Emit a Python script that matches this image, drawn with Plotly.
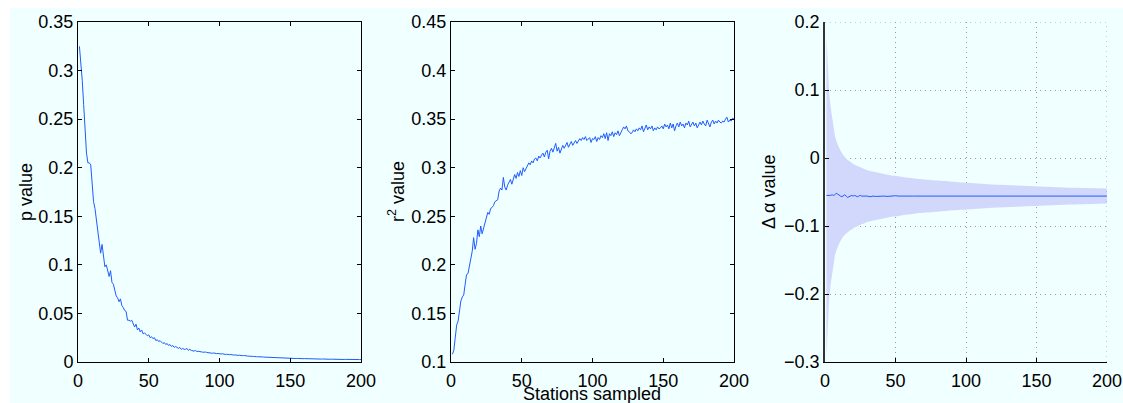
import plotly.graph_objects as go

# ---------------- data ----------------
stations = list(range(1, 201))

p_value = [
    0.325, 0.310, 0.290, 0.265, 0.240, 0.215, 0.205, 0.205, 0.203, 0.180,
    0.165, 0.158, 0.145, 0.133, 0.122, 0.112, 0.121, 0.110, 0.098, 0.100,
    0.094, 0.088, 0.094, 0.082, 0.080, 0.074, 0.068, 0.066, 0.062, 0.065,
    0.058, 0.056, 0.053, 0.052, 0.043, 0.043, 0.042, 0.043, 0.040, 0.036,
    0.039, 0.033, 0.035, 0.031, 0.033, 0.029, 0.030, 0.028, 0.027, 0.028,
    0.025, 0.026, 0.024, 0.025, 0.022, 0.023, 0.021, 0.022, 0.020, 0.019,
    0.020, 0.018, 0.019, 0.017, 0.018, 0.016, 0.017, 0.015, 0.016, 0.015,
    0.014, 0.015, 0.013, 0.014, 0.013, 0.013, 0.014, 0.012, 0.013, 0.012,
    0.0115, 0.0112, 0.0118, 0.0108, 0.0110, 0.0105, 0.0108, 0.0102, 0.0100, 0.0103,
    0.0098, 0.0095, 0.0097, 0.0092, 0.0090, 0.0093, 0.0088, 0.0086, 0.0088, 0.0083,
    0.0082, 0.0085, 0.0080, 0.0078, 0.0080, 0.0076, 0.0075, 0.0077, 0.0072, 0.0071,
    0.0073, 0.0069, 0.0068, 0.0070, 0.0066, 0.0065, 0.0067, 0.0063, 0.0064, 0.0061,
    0.0060, 0.0062, 0.0058, 0.0057, 0.0059, 0.0055, 0.0054, 0.0056, 0.0052, 0.0053,
    0.0051, 0.0050, 0.0052, 0.0048, 0.0049, 0.0047, 0.0046, 0.0048, 0.0045, 0.0044,
    0.0046, 0.0043, 0.0042, 0.0044, 0.0041, 0.0040, 0.0042, 0.0039, 0.0038, 0.0039,
    0.0038, 0.0037, 0.0038, 0.0036, 0.0037, 0.0035, 0.0036, 0.0035, 0.0034, 0.0035,
    0.0034, 0.0033, 0.0034, 0.0032, 0.0033, 0.0032, 0.0031, 0.0032, 0.0031, 0.0030,
    0.0031, 0.0030, 0.0031, 0.0029, 0.0030, 0.0029, 0.0030, 0.0028, 0.0029, 0.0028,
    0.0029, 0.0028, 0.0027, 0.0028, 0.0027, 0.0028, 0.0027, 0.0026, 0.0027, 0.0026,
    0.0027, 0.0026, 0.0027, 0.0026, 0.0025, 0.0026, 0.0025, 0.0026, 0.0025, 0.0025,
]

r2_value = [
    0.108, 0.112, 0.125, 0.138, 0.142, 0.152, 0.163, 0.167, 0.169, 0.180,
    0.190, 0.191, 0.198, 0.206, 0.214, 0.228, 0.216, 0.222, 0.236, 0.229,
    0.240, 0.232, 0.238, 0.245, 0.250, 0.254, 0.252, 0.258, 0.259, 0.261,
    0.265, 0.266, 0.267, 0.276, 0.279, 0.277, 0.290, 0.280, 0.277, 0.282,
    0.285, 0.288, 0.283, 0.287, 0.293, 0.289, 0.295, 0.291, 0.297, 0.292,
    0.300, 0.296, 0.299, 0.301, 0.305, 0.303, 0.307, 0.305, 0.309, 0.310,
    0.307, 0.312, 0.310, 0.313, 0.315, 0.311, 0.316, 0.318, 0.309, 0.317,
    0.320, 0.316, 0.322, 0.325, 0.317, 0.321, 0.315, 0.320, 0.323, 0.320,
    0.324, 0.326, 0.321, 0.325, 0.327, 0.323, 0.326, 0.328, 0.325, 0.327,
    0.330, 0.328, 0.331, 0.329, 0.332, 0.328, 0.330, 0.331, 0.326, 0.330,
    0.329, 0.332, 0.327, 0.331, 0.329, 0.333, 0.331, 0.335, 0.330, 0.336,
    0.328, 0.335, 0.333, 0.337, 0.332, 0.336, 0.334, 0.338, 0.333, 0.337,
    0.339, 0.342, 0.340, 0.343, 0.338, 0.337, 0.335, 0.336, 0.339, 0.337,
    0.340, 0.338, 0.341, 0.339, 0.343, 0.337, 0.340, 0.344, 0.339, 0.342,
    0.340, 0.343, 0.338, 0.341, 0.339, 0.342, 0.340, 0.341, 0.343, 0.340,
    0.345, 0.342, 0.344, 0.340, 0.346, 0.341, 0.345, 0.338, 0.343, 0.346,
    0.342, 0.347, 0.343, 0.345, 0.341, 0.346, 0.344, 0.348, 0.342, 0.345,
    0.347, 0.343, 0.346, 0.341, 0.345, 0.347, 0.344, 0.348, 0.345, 0.343,
    0.349, 0.346, 0.342, 0.347, 0.349, 0.345, 0.348, 0.346, 0.349, 0.347,
    0.346, 0.348, 0.347, 0.350, 0.352, 0.347, 0.349, 0.348, 0.351, 0.350,
]

alpha_stations = list(range(1, 31)) + list(range(32, 201, 2))

alpha_mean = [
    -0.055, -0.055, -0.056, -0.055, -0.054, -0.055, -0.054, -0.052, -0.053, -0.055,
    -0.056, -0.057, -0.055, -0.054, -0.056, -0.058, -0.057, -0.056, -0.055, -0.056,
    -0.055, -0.056, -0.057, -0.056, -0.055, -0.056, -0.056, -0.055, -0.056, -0.056,
    -0.057, -0.056, -0.0565, -0.056, -0.0555, -0.056, -0.0565, -0.056, -0.056, -0.0555,
    -0.056, -0.0565, -0.056, -0.056, -0.0555, -0.056, -0.056, -0.0565, -0.056, -0.056,
    -0.056, -0.0555, -0.056, -0.056, -0.0565, -0.056, -0.056, -0.056, -0.0555, -0.056,
    -0.056, -0.056, -0.0565, -0.056, -0.056, -0.056, -0.0555, -0.056, -0.056, -0.056,
    -0.056, -0.0565, -0.056, -0.056, -0.056, -0.0555, -0.056, -0.056, -0.056, -0.056,
    -0.056, -0.056, -0.0565, -0.056, -0.056, -0.056, -0.056, -0.0555, -0.056, -0.056,
    -0.056, -0.056, -0.056, -0.0565, -0.056, -0.056, -0.056, -0.056, -0.056, -0.0555,
    -0.056, -0.056, -0.056, -0.056, -0.0565, -0.056, -0.056, -0.056, -0.056, -0.056,
    -0.056, -0.056, -0.0555, -0.056, -0.056,
]

alpha_upper = [
    0.179, 0.126, 0.094, 0.075, 0.058, 0.045, 0.033, 0.025, 0.019, 0.015,
    0.011, 0.007, 0.004, 0.002, -0.001, -0.003, -0.004, -0.006, -0.007, -0.009,
    -0.010, -0.011, -0.012, -0.013, -0.014, -0.015, -0.016, -0.016, -0.017, -0.018,
    -0.019, -0.020, -0.021, -0.022, -0.023, -0.024, -0.024, -0.025, -0.026, -0.026,
    -0.027, -0.028, -0.028, -0.029, -0.029, -0.030, -0.030, -0.031, -0.031, -0.032,
    -0.032, -0.032, -0.033, -0.033, -0.033, -0.034, -0.034, -0.034, -0.035, -0.035,
    -0.035, -0.036, -0.036, -0.036, -0.036, -0.0365, -0.037, -0.037, -0.0375, -0.038,
    -0.038, -0.0382, -0.0385, -0.0388, -0.039, -0.0392, -0.0395, -0.0397, -0.040, -0.0402,
    -0.0404, -0.0406, -0.0408, -0.041, -0.0412, -0.0414, -0.0416, -0.0417, -0.0419, -0.042,
    -0.0422, -0.0423, -0.0425, -0.0426, -0.0428, -0.0429, -0.043, -0.0432, -0.0433, -0.0434,
    -0.0435, -0.0437, -0.0438, -0.0439, -0.044, -0.0441, -0.0442, -0.0443, -0.0444, -0.0445,
    -0.0446, -0.0447, -0.0448, -0.0449, -0.045,
]

alpha_lower = [
    -0.292, -0.236, -0.206, -0.186, -0.171, -0.156, -0.144, -0.136, -0.130, -0.126,
    -0.122, -0.118, -0.115, -0.113, -0.111, -0.109, -0.108, -0.106, -0.105, -0.103,
    -0.102, -0.101, -0.100, -0.099, -0.098, -0.097, -0.096, -0.096, -0.095, -0.094,
    -0.093, -0.092, -0.091, -0.090, -0.089, -0.088, -0.088, -0.087, -0.086, -0.086,
    -0.085, -0.084, -0.084, -0.083, -0.083, -0.082, -0.082, -0.081, -0.081, -0.080,
    -0.080, -0.080, -0.079, -0.079, -0.079, -0.078, -0.078, -0.078, -0.077, -0.077,
    -0.077, -0.076, -0.076, -0.076, -0.076, -0.0755, -0.075, -0.075, -0.0745, -0.074,
    -0.074, -0.0738, -0.0735, -0.0732, -0.073, -0.0728, -0.0725, -0.0723, -0.072, -0.0718,
    -0.0716, -0.0714, -0.0712, -0.071, -0.0708, -0.0706, -0.0704, -0.0703, -0.0701, -0.070,
    -0.0698, -0.0697, -0.0695, -0.0694, -0.0692, -0.0691, -0.069, -0.0688, -0.0687, -0.0686,
    -0.0685, -0.0683, -0.0682, -0.0681, -0.068, -0.0679, -0.0678, -0.0677, -0.0676, -0.0675,
    -0.0674, -0.0673, -0.0672, -0.0671, -0.067,
]

x_ticks = [0, 50, 100, 150, 200]

# ---------------- styling ----------------
W, H = 1123, 403
ML, MR, MT, MB = 20, 12, 12, 12   # fixed margins (no auto-expansion)
BG = "#f0ffff"
LINE = "#1f5cff"
BAND = "rgb(210,216,252)"
GRID = "#9a9a9a"
FONT = "Liberation Sans, Arial, Helvetica, sans-serif"
FS = 18


def px_x(p):
    return (p - ML) / (W - ML - MR)


def px_y(p):
    return (H - MB - p) / (H - MT - MB)


top, bottom = 22, 362
ydom = [px_y(bottom), px_y(top)]
panels = [(78, 361), (451, 734), (825, 1107)]

fig = go.Figure()

fig.add_trace(go.Scatter(x=stations, y=p_value, mode="lines",
                         line=dict(color=LINE, width=1), xaxis="x", yaxis="y",
                         showlegend=False))
fig.add_trace(go.Scatter(x=stations, y=r2_value, mode="lines",
                         line=dict(color=LINE, width=1), xaxis="x2", yaxis="y2",
                         showlegend=False))
fig.add_trace(go.Scatter(x=alpha_stations, y=alpha_upper, mode="lines",
                         line=dict(width=0, color=BAND), xaxis="x3", yaxis="y3",
                         showlegend=False))
fig.add_trace(go.Scatter(x=alpha_stations, y=alpha_lower, mode="lines",
                         line=dict(width=0, color=BAND), fill="tonexty",
                         fillcolor=BAND, xaxis="x3", yaxis="y3",
                         showlegend=False))
fig.add_trace(go.Scatter(x=alpha_stations, y=alpha_mean, mode="lines",
                         line=dict(color=LINE, width=1), xaxis="x3", yaxis="y3",
                         showlegend=False))

tickfont = dict(family=FONT, size=FS, color="black")

box_x = dict(range=[0, 200], tickvals=x_ticks, showline=True, linecolor="black",
             linewidth=1, mirror="ticks", ticks="inside", ticklen=4,
             tickcolor="black", showgrid=False, zeroline=False,
             tickfont=tickfont, ticklabelstandoff=2, automargin=False)
box_y = dict(showline=True, linecolor="black", linewidth=1, mirror="ticks",
             ticks="inside", ticklen=4, tickcolor="black", showgrid=False,
             zeroline=False, tickfont=tickfont, domain=ydom, automargin=False)

grid_dash = "1px,4px"

layout = dict(
    width=W, height=H, autosize=False,
    margin=dict(l=ML, r=MR, t=MT, b=MB, autoexpand=False),
    paper_bgcolor=BG, plot_bgcolor=BG,
    font=dict(family=FONT, size=FS, color="black"),
    showlegend=False,
    xaxis=dict(box_x, domain=[px_x(panels[0][0]), px_x(panels[0][1])], anchor="y"),
    yaxis=dict(box_y, range=[0, 0.35], dtick=0.05, tick0=0, anchor="x"),
    xaxis2=dict(box_x, domain=[px_x(panels[1][0]), px_x(panels[1][1])], anchor="y2"),
    yaxis2=dict(box_y, range=[0.1, 0.45], dtick=0.05, tick0=0.1, anchor="x2"),
    xaxis3=dict(range=[0, 200], tickvals=x_ticks, showline=True, linecolor="black",
                linewidth=1, mirror=False, ticks="inside", ticklen=4,
                tickcolor="black", showgrid=True, gridcolor=GRID,
                griddash=grid_dash, gridwidth=1, zeroline=False, tickfont=tickfont,
                ticklabelstandoff=2, automargin=False,
                domain=[px_x(panels[2][0]), px_x(panels[2][1])], anchor="y3"),
    yaxis3=dict(range=[-0.3, 0.2], dtick=0.1, tick0=-0.3, showline=True,
                linecolor="#333333", linewidth=1.5, mirror=False, ticks="inside",
                ticklen=4, tickcolor="black", showgrid=True, gridcolor=GRID,
                griddash=grid_dash, gridwidth=1, zeroline=False, tickfont=tickfont,
                automargin=False, domain=ydom, anchor="x3"),
    shapes=[
        dict(type="rect", xref="paper", yref="paper", x0=px_x(0), x1=px_x(W),
             y0=px_y(8), y1=px_y(0), fillcolor="white", line=dict(width=0)),
        dict(type="rect", xref="paper", yref="paper", x0=px_x(0), x1=px_x(10),
             y0=px_y(H), y1=px_y(0), fillcolor="white", line=dict(width=0)),
        dict(type="line", xref="x3", yref="y3", x0=0, x1=200, y0=0.2, y1=0.2,
             line=dict(color=GRID, width=1, dash=grid_dash)),
        dict(type="line", xref="x3", yref="y3", x0=200, x1=200, y0=-0.3, y1=0.2,
             line=dict(color=GRID, width=1, dash=grid_dash)),
    ],
    annotations=[
        dict(text="p value", xref="paper", yref="paper", x=px_x(26), y=px_y(192),
             textangle=-90, showarrow=False, xanchor="center", yanchor="middle",
             font=dict(family=FONT, size=FS)),
        dict(text="r<sup>2</sup> value", xref="paper", yref="paper", x=px_x(396),
             y=px_y(192), textangle=-90, showarrow=False, xanchor="center",
             yanchor="middle", font=dict(family=FONT, size=FS)),
        dict(text="\u0394 \u03b1 value", xref="paper", yref="paper", x=px_x(769),
             y=px_y(192), textangle=-90, showarrow=False, xanchor="center",
             yanchor="middle", font=dict(family=FONT, size=FS)),
        dict(text="Stations sampled", xref="paper", yref="paper", x=px_x(592),
             y=px_y(394), showarrow=False, xanchor="center", yanchor="middle",
             font=dict(family=FONT, size=FS)),
    ],
)

fig.update_layout(**layout)
fig.write_html("out.html")
